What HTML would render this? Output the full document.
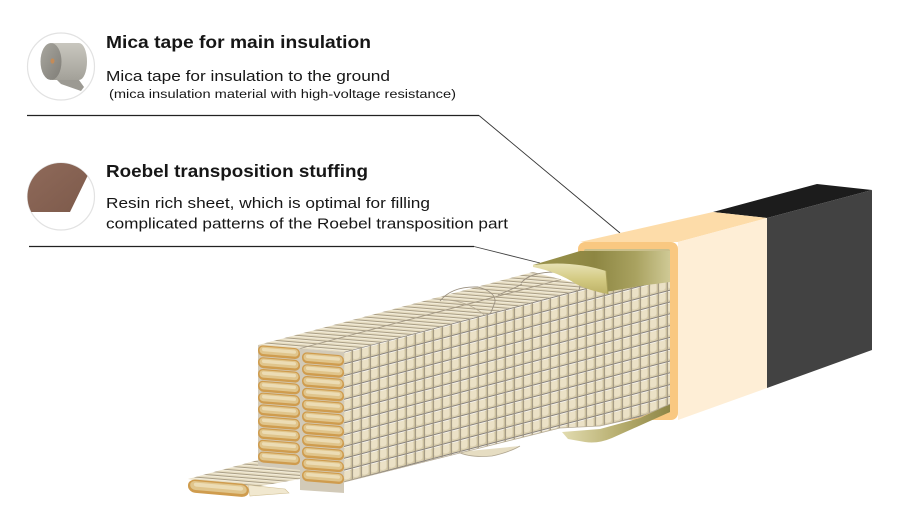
<!DOCTYPE html>
<html><head><meta charset="utf-8"><style>
html,body{margin:0;padding:0;background:#fff;}
svg{display:block;}
text{font-family:"Liberation Sans","Noto Sans CJK JP",sans-serif;fill:#161616;}
</style></head><body>
<svg width="900" height="528" viewBox="0 0 900 528" xmlns="http://www.w3.org/2000/svg">
<defs>
  <pattern id="grid" patternUnits="userSpaceOnUse" x="343" y="441.9" width="9" height="11.8" patternTransform="skewY(-14.7)">
    <rect width="9" height="11.8" fill="#d9ceae"/>
    <rect x="1.2" y="1.6" width="6.4" height="8.8" rx="2.2" fill="#ebe1c6"/>
    <line x1="0" y1="0.5" x2="9" y2="0.5" stroke="#86807a" stroke-width="1"/>
    <line x1="0" y1="1.4" x2="9" y2="1.4" stroke="#ffffff" stroke-width="0.7"/>
    <line x1="0.4" y1="0" x2="0.4" y2="11.8" stroke="#9d937f" stroke-width="0.9"/>
    <line x1="8.3" y1="1" x2="8.3" y2="11.8" stroke="#c2b594" stroke-width="0.8"/>
  </pattern>
  <pattern id="topp" patternUnits="userSpaceOnUse" width="200" height="3.4" patternTransform="rotate(4.7)">
    <rect width="200" height="3.4" fill="#e6dcc0"/>
    <line x1="0" y1="0.5" x2="200" y2="0.5" stroke="#a99e86" stroke-width="0.9"/>
    <line x1="0" y1="1.6" x2="200" y2="1.6" stroke="#f4eedd" stroke-width="0.9"/>
  </pattern>
  <linearGradient id="olive" x1="0" y1="0" x2="1" y2="0">
    <stop offset="0" stop-color="#9a934c"/>
    <stop offset="0.45" stop-color="#8d8642"/>
    <stop offset="0.75" stop-color="#a9a260"/>
    <stop offset="1" stop-color="#cfc995"/>
  </linearGradient>
  <linearGradient id="curl" x1="0" y1="0" x2="0" y2="1">
    <stop offset="0" stop-color="#e8e2b4"/>
    <stop offset="0.5" stop-color="#d4cb84"/>
    <stop offset="1" stop-color="#bdb266"/>
  </linearGradient>
  <linearGradient id="flap" x1="0" y1="0" x2="1" y2="0">
    <stop offset="0" stop-color="#e2dcb0"/>
    <stop offset="0.5" stop-color="#b9b072"/>
    <stop offset="1" stop-color="#8e8646"/>
  </linearGradient>
  <linearGradient id="rollface" x1="0" y1="0" x2="1" y2="1">
    <stop offset="0" stop-color="#a9a79f"/>
    <stop offset="1" stop-color="#7f7d77"/>
  </linearGradient>
  <linearGradient id="rollbody" x1="0" y1="0" x2="0" y2="1">
    <stop offset="0" stop-color="#c9c7bf"/>
    <stop offset="1" stop-color="#a3a199"/>
  </linearGradient>
  <linearGradient id="brown" x1="0" y1="0" x2="1" y2="1">
    <stop offset="0" stop-color="#8f6a5a"/>
    <stop offset="1" stop-color="#7d5a4b"/>
  </linearGradient>
  <g id="strand">
    <rect x="0" y="0" width="42" height="11" rx="5.2" fill="#cf9c4e"/>
    <rect x="1.5" y="1.2" width="39" height="7.4" rx="3.6" fill="#e0c58c"/>
    <rect x="4" y="2.4" width="34" height="3.4" rx="1.7" fill="#ecdcb4"/>
  </g>
</defs>

<!-- ===== Text ===== -->
<text x="106" y="48" font-size="17.5" font-weight="bold" textLength="265" lengthAdjust="spacingAndGlyphs">Mica tape for main insulation</text>
<text x="106" y="81" font-size="14.5" textLength="284" lengthAdjust="spacingAndGlyphs" fill="#222">Mica tape for insulation to the ground</text>
<text x="109" y="98" font-size="12.3" textLength="347" lengthAdjust="spacingAndGlyphs" fill="#222">(mica insulation material with high-voltage resistance)</text>

<text x="106" y="177" font-size="17.5" font-weight="bold" textLength="262" lengthAdjust="spacingAndGlyphs">Roebel transposition stuffing</text>
<text x="106" y="208" font-size="14.5" textLength="324" lengthAdjust="spacingAndGlyphs" fill="#222">Resin rich sheet, which is optimal for filling</text>
<text x="106" y="228.5" font-size="14.5" textLength="402" lengthAdjust="spacingAndGlyphs" fill="#222">complicated patterns of the Roebel transposition part</text>

<!-- ===== Leader lines ===== -->
<line x1="27" y1="115.5" x2="479" y2="115.5" stroke="#222" stroke-width="1.3"/>
<line x1="479" y1="115.5" x2="620" y2="233" stroke="#333" stroke-width="0.9"/>
<line x1="29" y1="246.5" x2="474" y2="246.5" stroke="#222" stroke-width="1.3"/>
<line x1="474" y1="246.5" x2="540" y2="263" stroke="#444" stroke-width="0.9"/>

<!-- ===== Icon circles ===== -->
<circle cx="61" cy="66.5" r="33.5" fill="#fff" stroke="#e2e2e2" stroke-width="1.2"/>
<path d="M57,80 L79,80 L84,87 L81,91 L61,84 Z" fill="#9c9a93"/>
<path d="M52,43 L79,43 A8,18.5 0 0 1 79,80 L52,80 Z" fill="url(#rollbody)"/>
<ellipse cx="51" cy="61.5" rx="10.5" ry="18.5" fill="url(#rollface)"/>
<ellipse cx="52.5" cy="61" rx="2" ry="2.6" fill="#c48b58"/>

<circle cx="61" cy="196.5" r="33.5" fill="#fff" stroke="#e2e2e2" stroke-width="1.2"/>
<path d="M31.3,212 A33.5,33.5 0 0 1 87.5,176 L70,212 Z" fill="url(#brown)"/>

<!-- ===== Cable: black section ===== -->
<polygon points="713,212 817,184 872,190 767,218" fill="#1c1c1c"/>
<polygon points="767,218 872,190 872,350 767,388" fill="#424242"/>

<!-- ===== Cable: peach insulation ===== -->
<polygon points="580,242 713,212 767,218 678,242" fill="#fddca9"/>
<polygon points="678,242 767,218 767,388 678,420" fill="#feeed6"/>
<rect x="578" y="242" width="100" height="178" rx="7" fill="#f9c881"/>
<rect x="584" y="249" width="86" height="164" rx="2" fill="#c9bf8c"/>

<!-- upper olive liner plane -->
<polygon points="533,265 580,251 670,251 670,302 612,297 560,270" fill="url(#olive)"/>

<!-- lower olive flap -->
<path d="M562,432 L600,429 L640,418 L670,404 L670,412 L612,438 Q598,444 585,442 L568,439 Z" fill="url(#flap)"/>

<!-- ===== Strand bundle ===== -->
<!-- top face -->
<polygon points="258,345 533,272 590,287 344,352" fill="url(#topp)"/>
<line x1="300" y1="348.5" x2="561" y2="279.5" stroke="#a39884" stroke-width="0.9"/>
<!-- crossover bumps -->
<path d="M440,301 Q452,286 478,287 Q496,292 495,302 Q490,316 484,326" fill="none" stroke="#9a9080" stroke-width="0.9"/>
<path d="M443,300 Q470,300 490,320" fill="none" stroke="#b3a892" stroke-width="0.8"/>
<path d="M521,283 Q530,272 556,272 Q576,276 580,286 Q578,298 570,308" fill="none" stroke="#9a9080" stroke-width="0.9"/>
<path d="M498,295 Q515,288 522,284" fill="none" stroke="#9a9080" stroke-width="0.8"/>

<!-- right face grid -->
<polygon points="344,352 590,287 606,292 640,286 670,282 670,404 640,417 600,426 560,428 344,482" fill="url(#grid)"/>
<path d="M458,452 Q470,458 492,456 Q510,452 520,446" fill="#e6ddc2" stroke="#b0a690" stroke-width="0.8"/>
<path d="M344,482 L560,428 L600,426 L640,417 L670,404" stroke="#b7ad98" stroke-width="0.8" fill="none"/>

<!-- lower left tail -->
<polygon points="188,479 258,460 300,466 300,479 250,488" fill="url(#topp)"/>
<polygon points="248,485 285,489 289,493 250,496" fill="#f1e8cf" stroke="#d2c196" stroke-width="0.6"/>
<g transform="translate(188,479) skewY(5)"><use href="#strand" transform="scale(1.45,1.2)"/></g>

<!-- front face backing -->
<polygon points="258,345 344,352 344,493 300,490 300,470 258,466" fill="#d2cab8"/>

<!-- left column strands -->
<g transform="translate(258,345) skewY(4.6)"><use href="#strand"/></g>
<g transform="translate(258,356.8) skewY(4.6)"><use href="#strand"/></g>
<g transform="translate(258,368.6) skewY(4.6)"><use href="#strand"/></g>
<g transform="translate(258,380.4) skewY(4.6)"><use href="#strand"/></g>
<g transform="translate(258,392.2) skewY(4.6)"><use href="#strand"/></g>
<g transform="translate(258,404) skewY(4.6)"><use href="#strand"/></g>
<g transform="translate(258,415.8) skewY(4.6)"><use href="#strand"/></g>
<g transform="translate(258,427.6) skewY(4.6)"><use href="#strand"/></g>
<g transform="translate(258,439.4) skewY(4.6)"><use href="#strand"/></g>
<g transform="translate(258,451.2) skewY(4.6)"><use href="#strand"/></g>
<!-- right column strands -->
<g transform="translate(302,352) skewY(4.6)"><use href="#strand"/></g>
<g transform="translate(302,363.8) skewY(4.6)"><use href="#strand"/></g>
<g transform="translate(302,375.6) skewY(4.6)"><use href="#strand"/></g>
<g transform="translate(302,387.4) skewY(4.6)"><use href="#strand"/></g>
<g transform="translate(302,399.2) skewY(4.6)"><use href="#strand"/></g>
<g transform="translate(302,411) skewY(4.6)"><use href="#strand"/></g>
<g transform="translate(302,422.8) skewY(4.6)"><use href="#strand"/></g>
<g transform="translate(302,434.6) skewY(4.6)"><use href="#strand"/></g>
<g transform="translate(302,446.4) skewY(4.6)"><use href="#strand"/></g>
<g transform="translate(302,458.2) skewY(4.6)"><use href="#strand"/></g>
<g transform="translate(302,470) skewY(4.6)"><use href="#strand"/></g>

<!-- curled liner on top -->
<path d="M533,265 Q572,260 606,271 L608,294 Q590,291 576,284 Q558,272 533,267 Z" fill="url(#curl)"/>
<path d="M606,271 L608,294" stroke="#a59c55" stroke-width="1"/>
</svg>
</body></html>
